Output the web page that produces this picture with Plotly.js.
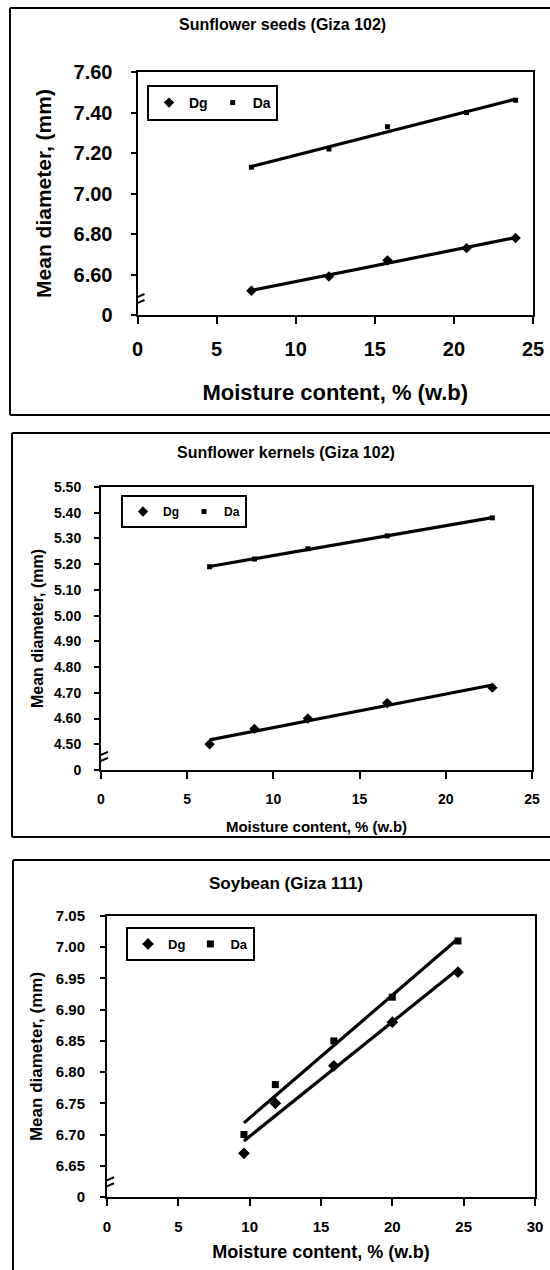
<!DOCTYPE html>
<html>
<head>
<meta charset="utf-8">
<script src="https://cdn.plot.ly/plotly-3.0.1.min.js"></script>
<style>
  html, body { margin: 0; padding: 0; background: #ffffff; }
  #chart { width: 550px; height: 1270px; }
</style>
</head>
<body>
<div id="chart"></div>
<script>
// ---------------- DATA ----------------
const titles = ["Sunflower seeds (Giza 102)", "Sunflower kernels (Giza 102)", "Soybean (Giza 111)"];
const seriesNames = ["Dg", "Da"];

// Panel 1: Sunflower seeds (Giza 102)
const moisture1 = [7.2, 12.1, 15.8, 20.8, 23.9];
const dg1 = [6.52, 6.59, 6.67, 6.73, 6.78];
const da1 = [7.13, 7.22, 7.33, 7.40, 7.46];
const yTickVals1 = [6.40, 6.60, 6.80, 7.00, 7.20, 7.40, 7.60];
const yTickText1 = ["0", "6.60", "6.80", "7.00", "7.20", "7.40", "7.60"];

// Panel 2: Sunflower kernels (Giza 102)
const moisture2 = [6.3, 8.9, 12.0, 16.6, 22.7];
const dg2 = [4.50, 4.56, 4.60, 4.66, 4.72];
const da2 = [5.19, 5.22, 5.26, 5.31, 5.38];
const yTickVals2 = [4.40, 4.50, 4.60, 4.70, 4.80, 4.90, 5.00, 5.10, 5.20, 5.30, 5.40, 5.50];
const yTickText2 = ["0", "4.50", "4.60", "4.70", "4.80", "4.90", "5.00", "5.10", "5.20", "5.30", "5.40", "5.50"];

// Panel 3: Soybean (Giza 111)
const moisture3 = [9.6, 11.8, 15.9, 20.0, 24.6];
const dg3 = [6.67, 6.75, 6.81, 6.88, 6.96];
const da3 = [6.70, 6.78, 6.85, 6.92, 7.01];
const yTickVals3 = [6.60, 6.65, 6.70, 6.75, 6.80, 6.85, 6.90, 6.95, 7.00, 7.05];
const yTickText3 = ["0", "6.65", "6.70", "6.75", "6.80", "6.85", "6.90", "6.95", "7.00", "7.05"];

const xTitle = "Moisture content, % (w.b)";
const yTitle = "Mean diameter, (mm)";

// ---------------- HELPERS ----------------
function linearFit(xs, ys) {
  const n = xs.length;
  let sx = 0, sy = 0, sxx = 0, sxy = 0;
  for (let i = 0; i < n; i++) { sx += xs[i]; sy += ys[i]; sxx += xs[i] * xs[i]; sxy += xs[i] * ys[i]; }
  const b = (n * sxy - sx * sy) / (n * sxx - sx * sx);
  const a = (sy - b * sx) / n;
  const xmin = Math.min(...xs), xmax = Math.max(...xs);
  return { x: [xmin, xmax], y: [a + b * xmin, a + b * xmax] };
}

const FONT = "Liberation Sans, Arial, sans-serif";
const W = 550, H = 1270;
const px = v => v / W;
const py = v => 1 - v / H;

const panels = [
  { x: moisture1, dg: dg1, da: da1, tv: yTickVals1, tt: yTickText1, yr: [6.40, 7.60], xr: [0, 25],
    dom: [[137.5, 533], [72, 315]], tick: 20, axt: 21, xaxt: 22, ttl: 16, leg: 14, dgSize: 8, daSize: 5,
    legPos: [147, 85], brk: 6.474, titleY: 25, titleX: 282, frame: [10, 8, 415],
    ytitleStand: 16, xtitleStand: 26, xlabStand: 8, ylabStand: 14 },
  { x: moisture2, dg: dg2, da: da2, tv: yTickVals2, tt: yTickText2, yr: [4.40, 5.50], xr: [0, 25],
    dom: [[101, 532], [487, 770]], tick: 14, axt: 16, xaxt: 15, ttl: 16, leg: 12, dgSize: 8, daSize: 5,
    legPos: [121, 495], brk: 4.447, titleY: 452, titleX: 286, frame: [12, 433, 837],
    ytitleStand: 6, xtitleStand: 16, xlabStand: 8, ylabStand: 10 },
  { x: moisture3, dg: dg3, da: da3, tv: yTickVals3, tt: yTickText3, yr: [6.60, 7.05], xr: [0, 30],
    dom: [[107, 535], [916, 1197]], tick: 15, axt: 17, xaxt: 18, ttl: 17, leg: 13, dgSize: 9, daSize: 7,
    legPos: [126, 927], brk: 6.622, titleY: 883, titleX: 286, frame: [13, 860, 1280],
    ytitleStand: 9, xtitleStand: 11, xlabStand: 8, ylabStand: 12 }
];

const traces = [];
const layout = {
  width: W, height: H,
  margin: { l: 0, r: 0, t: 0, b: 0, pad: 0 },
  paper_bgcolor: "#ffffff", plot_bgcolor: "#ffffff",
  font: { family: FONT, color: "#000000" },
  showlegend: true,
  annotations: [], shapes: []
};

panels.forEach((p, i) => {
  const k = i + 1;
  const xa = k === 1 ? "x" : "x" + k;
  const ya = k === 1 ? "y" : "y" + k;
  const legName = k === 1 ? "legend" : "legend" + k;

  traces.push({
    type: "scatter", mode: "markers", name: seriesNames[0], x: p.x, y: p.dg,
    xaxis: xa, yaxis: ya, legend: legName,
    marker: { symbol: "diamond", size: p.dgSize, color: "#000000" }
  });
  traces.push({
    type: "scatter", mode: "markers", name: seriesNames[1], x: p.x, y: p.da,
    xaxis: xa, yaxis: ya, legend: legName,
    marker: { symbol: "square", size: p.daSize, color: "#000000" }
  });
  const f1 = linearFit(p.x, p.dg), f2 = linearFit(p.x, p.da);
  [f1, f2].forEach(f => traces.push({
    type: "scatter", mode: "lines", x: f.x, y: f.y, xaxis: xa, yaxis: ya,
    showlegend: false, hoverinfo: "skip", line: { color: "#000000", width: 3.2 }
  }));

  layout["xaxis" + (k === 1 ? "" : k)] = {
    domain: [px(p.dom[0][0]), px(p.dom[0][1])],
    anchor: ya, range: p.xr, dtick: 5, tick0: 0,
    showgrid: false, zeroline: false, showline: true, mirror: true,
    linecolor: "#000000", linewidth: 2,
    ticks: "outside", ticklen: 7, tickwidth: 2, tickcolor: "#000000",
    ticklabelstandoff: p.xlabStand,
    tickfont: { family: FONT, size: p.tick, weight: "bold", color: "#000000" },
    title: { text: xTitle, standoff: p.xtitleStand, font: { family: FONT, size: p.xaxt, weight: "bold", color: "#000000" } }
  };
  layout["yaxis" + (k === 1 ? "" : k)] = {
    domain: [py(p.dom[1][1]), py(p.dom[1][0])],
    anchor: xa, range: p.yr, tickvals: p.tv, ticktext: p.tt,
    showgrid: false, zeroline: false, showline: true, mirror: true,
    linecolor: "#000000", linewidth: 2,
    ticks: "outside", ticklen: 5, tickwidth: 2, tickcolor: "#000000",
    ticklabelstandoff: p.ylabStand,
    tickfont: { family: FONT, size: p.tick, weight: "bold", color: "#000000" },
    title: { text: yTitle, standoff: p.ytitleStand, font: { family: FONT, size: p.axt, weight: "bold", color: "#000000" } }
  };

  layout[legName] = {
    x: px(p.legPos[0]), y: py(p.legPos[1]), xref: "paper", yref: "paper",
    xanchor: "left", yanchor: "top", orientation: "h",
    bgcolor: "#ffffff", bordercolor: "#000000", borderwidth: 2,
    font: { family: FONT, size: p.leg, weight: "bold", color: "#000000" },
    itemwidth: 30, tracegroupgap: 0
  };

  // panel title
  layout.annotations.push({
    text: titles[i], xref: "paper", yref: "paper", x: px(p.titleX), y: py(p.titleY),
    xanchor: "center", yanchor: "middle", showarrow: false,
    font: { family: FONT, size: p.ttl, weight: "bold", color: "#000000" }
  });

  // outer frame: top, left, bottom (right edge runs off the picture)
  const fl = { color: "#000000", width: 2 };
  layout.shapes.push({ type: "line", xref: "paper", yref: "paper", x0: px(p.frame[0]), x1: 1, y0: py(p.frame[1]), y1: py(p.frame[1]), line: fl });
  layout.shapes.push({ type: "line", xref: "paper", yref: "paper", x0: px(p.frame[0]), x1: px(p.frame[0]), y0: py(p.frame[1]), y1: py(Math.min(p.frame[2], H)), line: fl });
  if (p.frame[2] < H) {
    layout.shapes.push({ type: "line", xref: "paper", yref: "paper", x0: px(p.frame[0]), x1: 1, y0: py(p.frame[2]), y1: py(p.frame[2]), line: fl });
  }

  // axis break marks
  [-3, 3].forEach(off => layout.shapes.push({
    type: "line", xref: xa, yref: ya,
    xsizemode: "pixel", xanchor: 0, x0: -7, x1: 7,
    ysizemode: "pixel", yanchor: p.brk, y0: off - 3, y1: off + 3,
    line: { color: "#000000", width: 2 }
  }));
});

Plotly.newPlot("chart", traces, layout, { displayModeBar: false, staticPlot: true });
</script>
</body>
</html>
